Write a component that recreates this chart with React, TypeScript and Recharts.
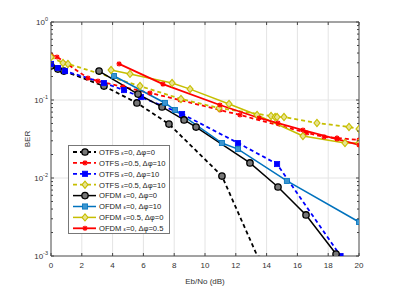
import React from 'react';
import { LineChart, Line, XAxis, YAxis, CartesianGrid, Legend, ReferenceArea } from 'recharts';

// Eb/No (dB) and BER, one pair of arrays per curve
const otfs00X = [0, 0.45, 0.84, 3.44, 5.58, 7.66, 11.1, 13.5];
const otfs00Y = [0.273, 0.249, 0.235, 0.151, 0.0916, 0.0492, 0.0106, 0.0009];

const otfs0510X = [0, 0.39, 2.4, 3.05, 4.68, 6.43, 8.38, 10.97, 12.27, 16.62, 17.73, 18.57, 20];
const otfs0510Y = [0.378, 0.356, 0.191, 0.175, 0.147, 0.123, 0.1, 0.0744, 0.0643, 0.0378, 0.0336, 0.0326, 0.0307];

const otfs010X = [0, 0.45, 0.91, 3.44, 4.74, 5.84, 8.51, 12.14, 14.68, 18.8];
const otfs010Y = [0.29, 0.257, 0.235, 0.165, 0.134, 0.109, 0.0662, 0.0281, 0.0151, 0.001];

const otfsY0510X = [0, 0.78, 1.1, 5.78, 8.44, 10.91, 14.29, 14.55, 14.68, 15.13, 17.27, 19.35, 20];
const otfsY0510Y = [0.356, 0.298, 0.29, 0.151, 0.103, 0.0789, 0.0624, 0.0605, 0.0605, 0.0605, 0.0507, 0.0451, 0.0425];

const ofdm00X = [3.12, 5.65, 7.21, 8.64, 9.42, 12.92, 14.74, 16.56, 18.51];
const ofdm00Y = [0.235, 0.119, 0.0815, 0.0555, 0.045, 0.0156, 0.00767, 0.00336, 0.00106];

const ofdm010X = [4.09, 7.4, 8.05, 11.1, 12.14, 15.32, 20];
const ofdm010Y = [0.203, 0.0916, 0.0744, 0.0281, 0.0235, 0.00916, 0.00273];

const ofdm050X = [3.9, 5.13, 7.86, 9.03, 11.56, 13.38, 16.36, 19.09, 20];
const ofdm050Y = [0.242, 0.216, 0.165, 0.138, 0.0889, 0.0643, 0.0345, 0.0281, 0.0281];

const ofdm005X = [4.42, 7.27, 10.97, 13.51, 14.74, 16.36, 18.57, 20];
const ofdm005Y = [0.29, 0.16, 0.0863, 0.0588, 0.0507, 0.0412, 0.0316, 0.0265];

const xTicks = [0, 2, 4, 6, 8, 10, 12, 14, 16, 18, 20];
const decades = [0.001, 0.01, 0.1, 1];
const minorTicks = [2, 3, 4, 5, 6, 7, 8, 9].flatMap(m => [0.001 * m, 0.01 * m, 0.1 * m]);

const zip = (xs: number[], ys: number[]) => xs.map((x, i) => ({ x, y: ys[i] }));

const W = 389;
const H = 280;
const M = { top: 14, right: 38, bottom: 12, left: 13 };
const Y_W = 30;
const X_H = 20;
const LEFT = M.left + Y_W;
const RIGHT = W - M.right;
const TOP = M.top;
const BOTTOM = H - M.bottom - X_H;

const FONT = '"Liberation Sans", Arial, sans-serif';
const YELLOW = '#C6BE00';

type MarkerKind = 'circle' | 'star' | 'square' | 'diamond';

const drawMarker = (kind: MarkerKind, color: string, fill: string, cx: number, cy: number, key?: string | number) => {
  if (kind === 'circle') {
    return <circle key={key} cx={cx} cy={cy} r={3.2} stroke={color} strokeWidth={1.3} fill={fill} />;
  }
  if (kind === 'square') {
    return <rect key={key} x={cx - 2.6} y={cy - 2.6} width={5.2} height={5.2} stroke={color} strokeWidth={0.8} fill={fill} />;
  }
  if (kind === 'diamond') {
    return (
      <path key={key} d={`M${cx},${cy - 3.6}L${cx + 3},${cy}L${cx},${cy + 3.6}L${cx - 3},${cy}Z`} stroke={color} strokeWidth={1.1} fill={fill} />
    );
  }
  const s = 2.6;
  const d = 1.9;
  return (
    <path
      key={key}
      d={`M${cx - s},${cy}H${cx + s}M${cx},${cy - s}V${cy + s}M${cx - d},${cy - d}L${cx + d},${cy + d}M${cx - d},${cy + d}L${cx + d},${cy - d}`}
      stroke={color}
      strokeWidth={1.2}
      fill="none"
    />
  );
};

const markerDot = (kind: MarkerKind, color: string, fill: string) => (props: any) => {
  const { cx, cy, index } = props;
  if (cx == null || cy == null) return <g key={index} />;
  return drawMarker(kind, color, fill, cx, cy, index);
};

type Series = {
  name: string;
  eps: string;
  phi: string;
  color: string;
  dash?: string;
  width: number;
  marker: MarkerKind;
  fill: string;
  data: { x: number; y: number }[];
};

const series: Series[] = [
  { name: 'OTFS', eps: '0', phi: '0', color: '#000000', dash: '4 3', width: 1.8, marker: 'circle', fill: '#777777', data: zip(otfs00X, otfs00Y) },
  { name: 'OTFS', eps: '0.5', phi: '10', color: '#FF0000', dash: '4 3', width: 1.8, marker: 'star', fill: 'none', data: zip(otfs0510X, otfs0510Y) },
  { name: 'OTFS', eps: '0', phi: '10', color: '#0000FF', dash: '4 3', width: 1.8, marker: 'square', fill: '#0000FF', data: zip(otfs010X, otfs010Y) },
  { name: 'OTFS', eps: '0.5', phi: '10', color: YELLOW, dash: '4 3', width: 1.8, marker: 'diamond', fill: '#E8E390', data: zip(otfsY0510X, otfsY0510Y) },
  { name: 'OFDM', eps: '0', phi: '0', color: '#000000', width: 1.5, marker: 'circle', fill: '#777777', data: zip(ofdm00X, ofdm00Y) },
  { name: 'OFDM', eps: '0', phi: '10', color: '#0072BD', width: 1.5, marker: 'square', fill: '#3a95d0', data: zip(ofdm010X, ofdm010Y) },
  { name: 'OFDM', eps: '0.5', phi: '0', color: YELLOW, width: 1.5, marker: 'diamond', fill: '#E8E390', data: zip(ofdm050X, ofdm050Y) },
  { name: 'OFDM', eps: '0', phi: '0.5', color: '#FF0000', width: 1.8, marker: 'star', fill: 'none', data: zip(ofdm005X, ofdm005Y) },
];

const XTick = (props: any) => {
  const { x, payload } = props;
  return (
    <g>
      <line x1={x} x2={x} y1={BOTTOM} y2={BOTTOM - 3} stroke="#444" />
      <line x1={x} x2={x} y1={TOP} y2={TOP + 3} stroke="#444" />
      <text x={x} y={BOTTOM + 12} textAnchor="middle" fontSize={8} fill="#333" fontFamily={FONT}>
        {payload.value}
      </text>
    </g>
  );
};

const YTick = (props: any) => {
  const { y, payload } = props;
  const v = payload.value as number;
  const exp = Math.round(Math.log10(v));
  const major = Math.abs(Math.log10(v) - exp) < 1e-6;
  const len = major ? 3 : 2;
  return (
    <g>
      <line x1={LEFT} x2={LEFT + len} y1={y} y2={y} stroke="#444" />
      <line x1={RIGHT} x2={RIGHT - len} y1={y} y2={y} stroke="#444" />
      {major && (
        <text x={LEFT - 3} y={y + 3} textAnchor="end" fontSize={8} fill="#333" fontFamily={FONT}>
          <tspan>10</tspan>
          <tspan dy={-4} fontSize={5.5}>{exp}</tspan>
        </text>
      )}
    </g>
  );
};

const LegendBox = () => {
  const rowH = 10.9;
  return (
    <svg width={102} height={89} style={{ display: 'block' }}>
      <rect x={0.5} y={0.5} width={101} height={88} fill="#fff" stroke="#777" />
      {series.map((s, i) => {
        const cy = 7 + i * rowH;
        return (
          <g key={i}>
            <line x1={5} x2={28} y1={cy} y2={cy} stroke={s.color} strokeWidth={s.width} strokeDasharray={s.dash} />
            {drawMarker(s.marker, s.color, s.fill, 17, cy)}
            <text x={31} y={cy + 2.8} fontSize={7.6} fill="#222" fontFamily={FONT}>
              {s.name + ' '}
              <tspan fontSize={5.5}>ε</tspan>
              {`=${s.eps}, Δφ=${s.phi}`}
            </text>
          </g>
        );
      })}
    </svg>
  );
};

export default function App() {
  return (
    <LineChart width={W} height={H} margin={M} style={{ fontFamily: FONT }}>
      <CartesianGrid stroke="#e4e4e4" horizontalValues={decades} verticalValues={xTicks} />
      <ReferenceArea x1={0} x2={20} y1={0.001} y2={1} fill="none" stroke="#555" strokeWidth={1} ifOverflow="visible" />
      <XAxis
        type="number"
        dataKey="x"
        domain={[0, 20]}
        ticks={xTicks}
        allowDataOverflow
        height={X_H}
        axisLine={false}
        tickLine={false}
        tick={<XTick />}
        interval={0}
        label={{ value: 'Eb/No (dB)', position: 'bottom', offset: 2, fontSize: 8, fill: '#333' }}
      />
      <YAxis
        type="number"
        dataKey="y"
        scale="log"
        domain={[0.001, 1]}
        ticks={[...decades, ...minorTicks]}
        allowDataOverflow
        width={Y_W}
        axisLine={false}
        tickLine={false}
        tick={<YTick />}
        interval={0}
        label={{ value: 'BER', angle: -90, position: 'insideLeft', offset: 6, fontSize: 8, fill: '#333', style: { textAnchor: 'middle' } }}
      />
      {series.map((s, i) => (
        <Line
          key={i}
          data={s.data}
          dataKey="y"
          type="linear"
          stroke={s.color}
          strokeWidth={s.width}
          strokeDasharray={s.dash}
          dot={markerDot(s.marker, s.color, s.fill)}
          activeDot={false}
          isAnimationActive={false}
        />
      ))}
      <Legend
        verticalAlign="middle"
        align="center"
        content={<LegendBox />}
        wrapperStyle={{ left: 60, top: 137, width: 102, height: 89 }}
      />
    </LineChart>
  );
}
